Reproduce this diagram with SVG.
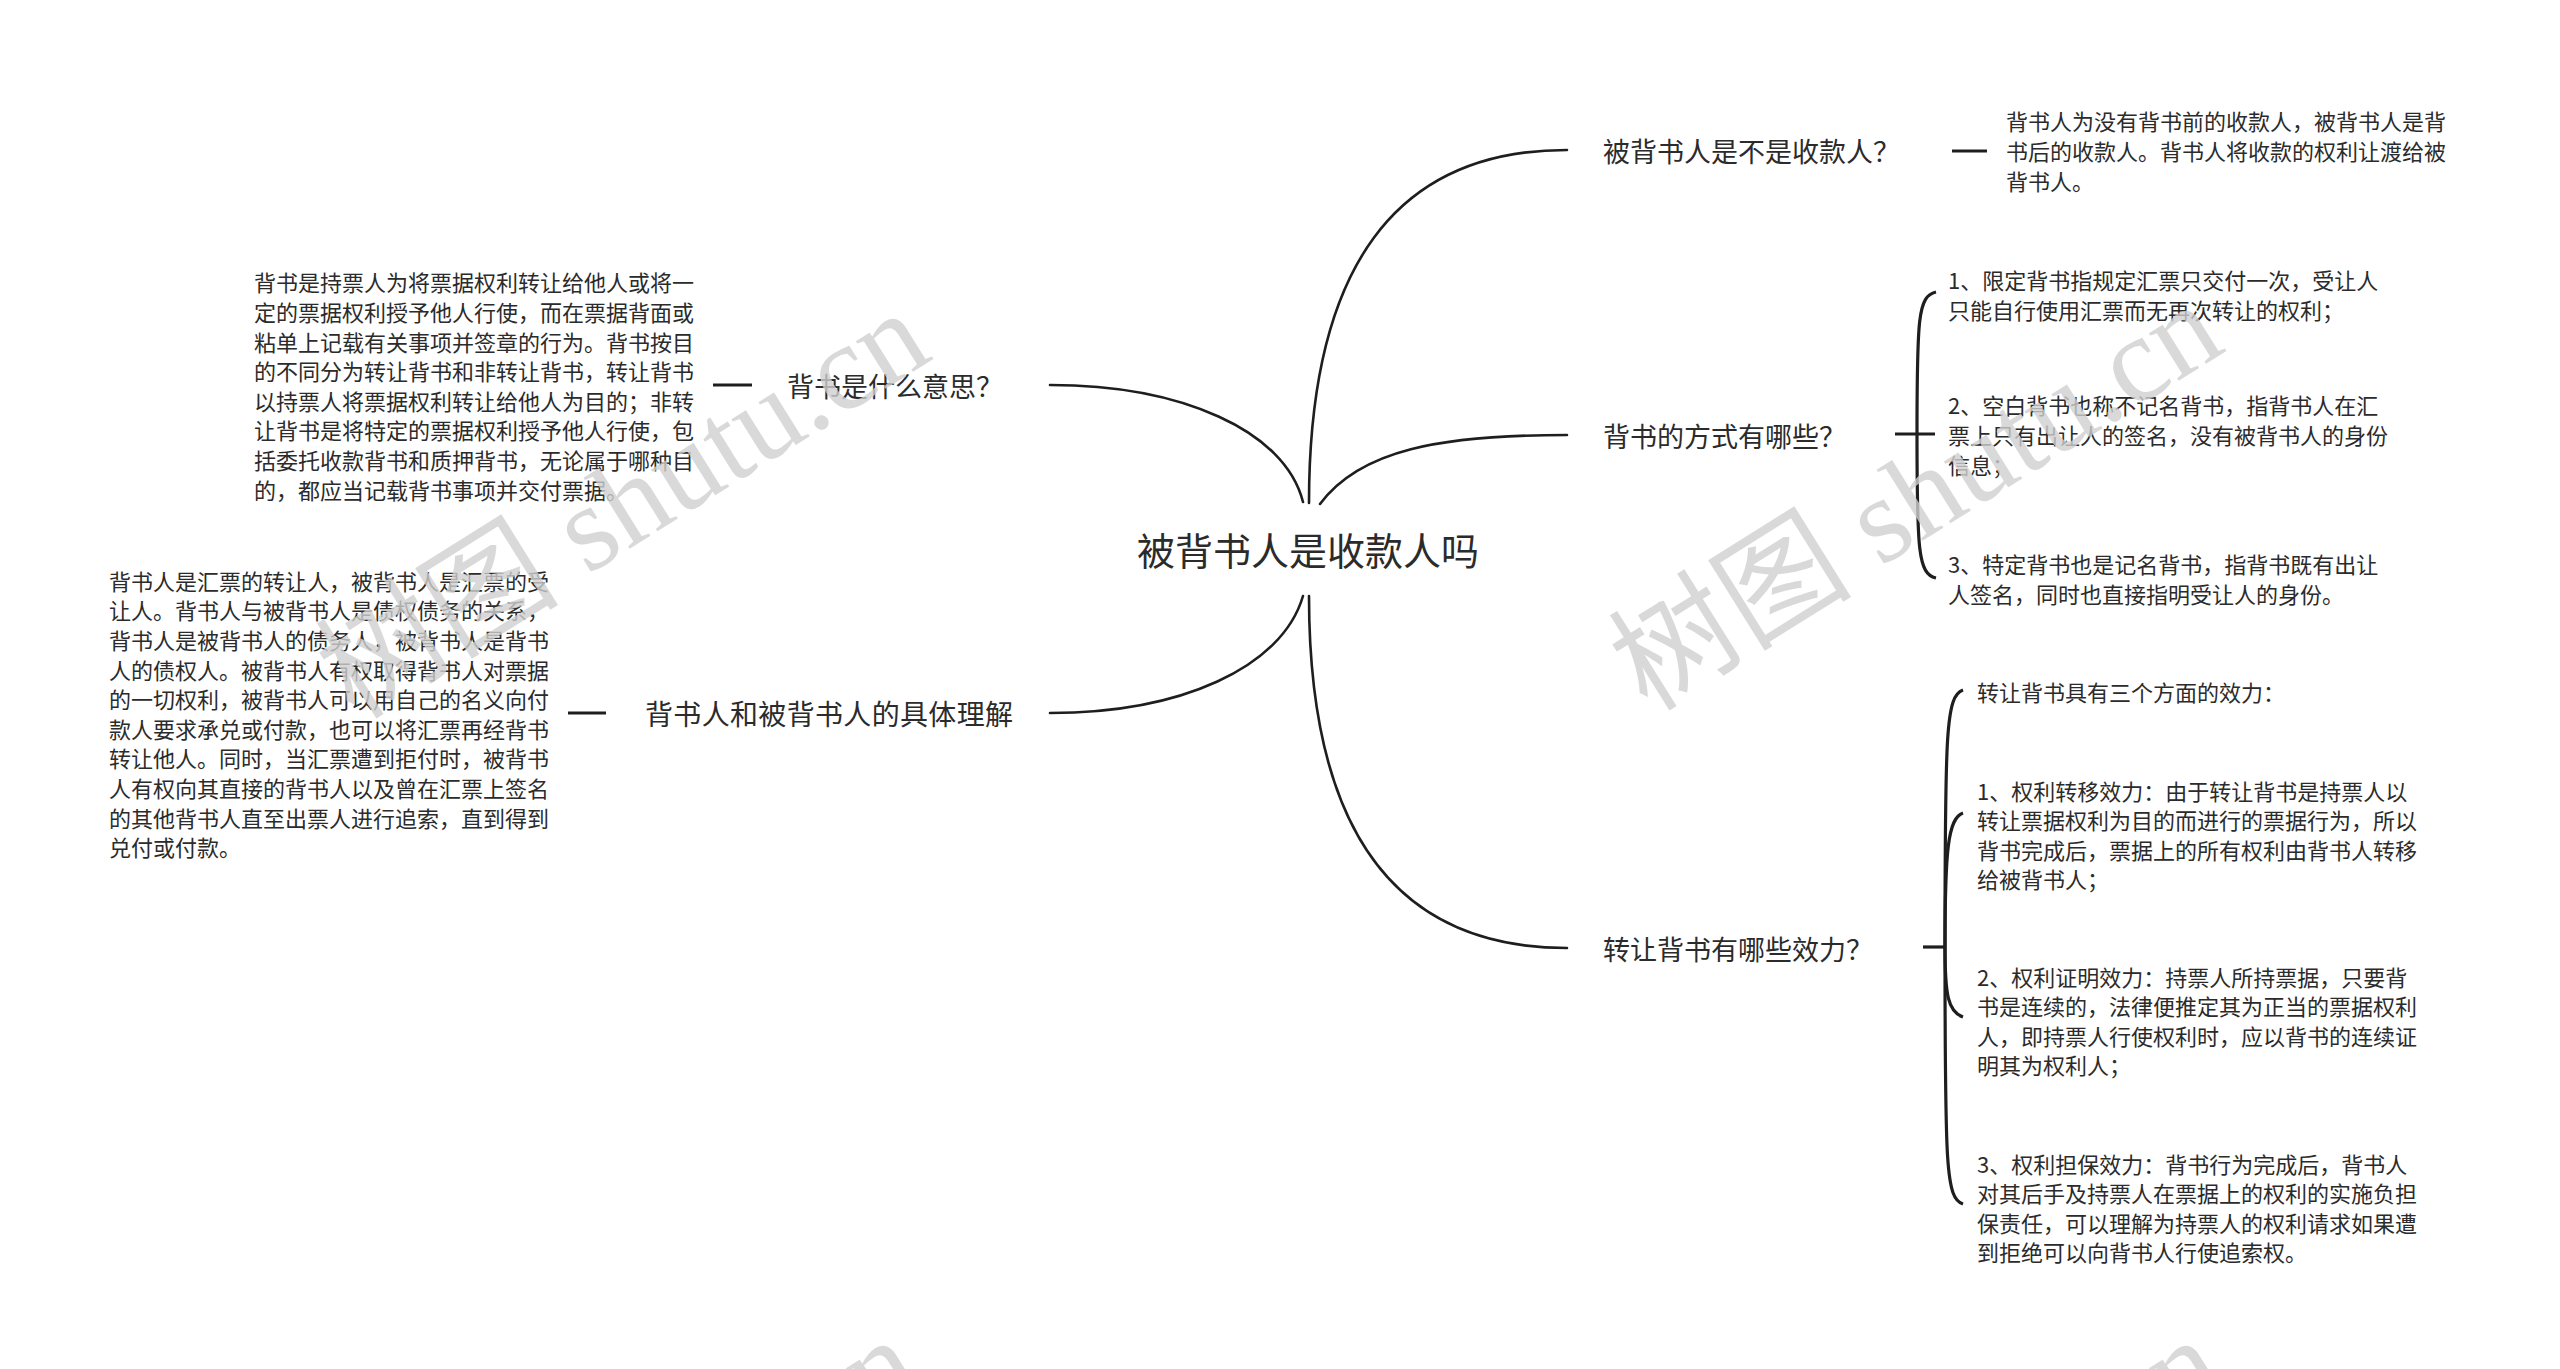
<svg xmlns="http://www.w3.org/2000/svg" width="2560" height="1369" viewBox="0 0 2560 1369">
<style>
text{font-family:"Noto Sans CJK SC","Noto Sans",sans-serif;fill:#2b2b2b;dominant-baseline:central}
.center{font-size:38px}
.branch{font-size:27px}
.leaf{font-size:22px}
.link{fill:none;stroke:#1e1e1e;stroke-width:2.6;stroke-linecap:round}
.bar{fill:none;stroke:#1e1e1e;stroke-width:3.2}
.wm{font-family:"Liberation Serif","Noto Sans CJK SC",serif;font-size:122px;fill:#cfcfcf;fill-opacity:0.8;dominant-baseline:alphabetic}
</style>
<rect width="2560" height="1369" fill="#ffffff"/>
<g id="connectors">
<path class="link" d="M1309,503 Q1309,150 1567,150"/>
<path class="link" d="M1320,504 C1360,450 1440,435 1567,435"/>
<path class="link" d="M1309,596 Q1309,948 1567,948"/>
<path class="link" d="M1050,385 C1180,385 1285,430 1303,502"/>
<path class="link" d="M1303,596 C1282,668 1180,713 1050,713"/>
<path class="bar" d="M1952,151 L1987,151"/>
<path class="bar" d="M713,385 L752,385"/>
<path class="bar" d="M568,713 L606,713"/>
<path class="bar" d="M1895,434 L1935,434"/>
<path class="bar" d="M1917,434 C1917,318 1918,296 1936,292"/>
<path class="bar" d="M1917,434 C1917,550 1918,574 1936,578"/>
<path class="bar" d="M1923,947 L1945,947"/>
<path class="bar" d="M1945,947 C1945,730 1946,696 1963,690"/>
<path class="bar" d="M1945,947 C1945,850 1948,818 1963,813"/>
<path class="bar" d="M1945,947 C1945,995 1948,1012 1963,1017"/>
<path class="bar" d="M1945,947 C1945,1170 1946,1198 1963,1204"/>
</g>
<g id="root"><text class="center" x="1308" y="548" text-anchor="middle">被背书人是收款人吗</text></g>
<g id="b1"><text class="branch" x="1603" y="150">被背书人是不是收款人？</text></g>
<g id="b1-leaf">
<text class="leaf" x="2006" y="120.4">背书人为没有背书前的收款人，被背书人是背</text>
<text class="leaf" x="2006" y="150">书后的收款人。背书人将收款的权利让渡给被</text>
<text class="leaf" x="2006" y="179.6">背书人。</text>
</g>
<g id="b2"><text class="branch" x="1603" y="435">背书的方式有哪些？</text></g>
<g id="b2-item1">
<text class="leaf" x="1948" y="279.2">1、限定背书指规定汇票只交付一次，受让人</text>
<text class="leaf" x="1948" y="308.8">只能自行使用汇票而无再次转让的权利；</text>
</g>
<g id="b2-item2">
<text class="leaf" x="1948" y="404.4">2、空白背书也称不记名背书，指背书人在汇</text>
<text class="leaf" x="1948" y="434">票上只有出让人的签名，没有被背书人的身份</text>
<text class="leaf" x="1948" y="463.6">信息；</text>
</g>
<g id="b2-item3">
<text class="leaf" x="1948" y="563.2">3、特定背书也是记名背书，指背书既有出让</text>
<text class="leaf" x="1948" y="592.8">人签名，同时也直接指明受让人的身份。</text>
</g>
<g id="b3"><text class="branch" x="1603" y="948">转让背书有哪些效力？</text></g>
<g id="b3-head"><text class="leaf" x="1977" y="691">转让背书具有三个方面的效力：</text></g>
<g id="b3-item1">
<text class="leaf" x="1977" y="789.6">1、权利转移效力：由于转让背书是持票人以</text>
<text class="leaf" x="1977" y="819.2">转让票据权利为目的而进行的票据行为，所以</text>
<text class="leaf" x="1977" y="848.8">背书完成后，票据上的所有权利由背书人转移</text>
<text class="leaf" x="1977" y="878.4">给被背书人；</text>
</g>
<g id="b3-item2">
<text class="leaf" x="1977" y="975.6">2、权利证明效力：持票人所持票据，只要背</text>
<text class="leaf" x="1977" y="1005.2">书是连续的，法律便推定其为正当的票据权利</text>
<text class="leaf" x="1977" y="1034.8">人，即持票人行使权利时，应以背书的连续证</text>
<text class="leaf" x="1977" y="1064.4">明其为权利人；</text>
</g>
<g id="b3-item3">
<text class="leaf" x="1977" y="1162.6">3、权利担保效力：背书行为完成后，背书人</text>
<text class="leaf" x="1977" y="1192.2">对其后手及持票人在票据上的权利的实施负担</text>
<text class="leaf" x="1977" y="1221.8">保责任，可以理解为持票人的权利请求如果遭</text>
<text class="leaf" x="1977" y="1251.4">到拒绝可以向背书人行使追索权。</text>
</g>
<g id="l1"><text class="branch" x="1003" y="385" text-anchor="end">背书是什么意思？</text></g>
<g id="l1-leaf">
<text class="leaf" x="254" y="281.4">背书是持票人为将票据权利转让给他人或将一</text>
<text class="leaf" x="254" y="311">定的票据权利授予他人行使，而在票据背面或</text>
<text class="leaf" x="254" y="340.6">粘单上记载有关事项并签章的行为。背书按目</text>
<text class="leaf" x="254" y="370.2">的不同分为转让背书和非转让背书，转让背书</text>
<text class="leaf" x="254" y="399.8">以持票人将票据权利转让给他人为目的；非转</text>
<text class="leaf" x="254" y="429.4">让背书是将特定的票据权利授予他人行使，包</text>
<text class="leaf" x="254" y="459">括委托收款背书和质押背书，无论属于哪种目</text>
<text class="leaf" x="254" y="488.6">的，都应当记载背书事项并交付票据。</text>
</g>
<g id="l2"><text class="branch" x="645" y="713" style="font-size:28px" textLength="368" lengthAdjust="spacing">背书人和被背书人的具体理解</text></g>
<g id="l2-leaf">
<text class="leaf" x="109" y="579.8">背书人是汇票的转让人，被背书人是汇票的受</text>
<text class="leaf" x="109" y="609.4">让人。背书人与被背书人是债权债务的关系，</text>
<text class="leaf" x="109" y="639">背书人是被背书人的债务人，被背书人是背书</text>
<text class="leaf" x="109" y="668.6">人的债权人。被背书人有权取得背书人对票据</text>
<text class="leaf" x="109" y="698.2">的一切权利，被背书人可以用自己的名义向付</text>
<text class="leaf" x="109" y="727.8">款人要求承兑或付款，也可以将汇票再经背书</text>
<text class="leaf" x="109" y="757.4">转让他人。同时，当汇票遭到拒付时，被背书</text>
<text class="leaf" x="109" y="787">人有权向其直接的背书人以及曾在汇票上签名</text>
<text class="leaf" x="109" y="816.6">的其他背书人直至出票人进行追索，直到得到</text>
<text class="leaf" x="109" y="846.2">兑付或付款。</text>
</g>
<g id="watermarks">
<text class="wm" transform="translate(935,358) rotate(-32)" text-anchor="end">树图 shutu.cn</text>
<text class="wm" transform="translate(2228,350) rotate(-32)" text-anchor="end">树图 shutu.cn</text>
<text class="wm" transform="translate(925,1385) rotate(-32)" text-anchor="end">树图 shutu.cn</text>
<text class="wm" transform="translate(2228,1385) rotate(-32)" text-anchor="end">树图 shutu.cn</text>
</g>
</svg>
